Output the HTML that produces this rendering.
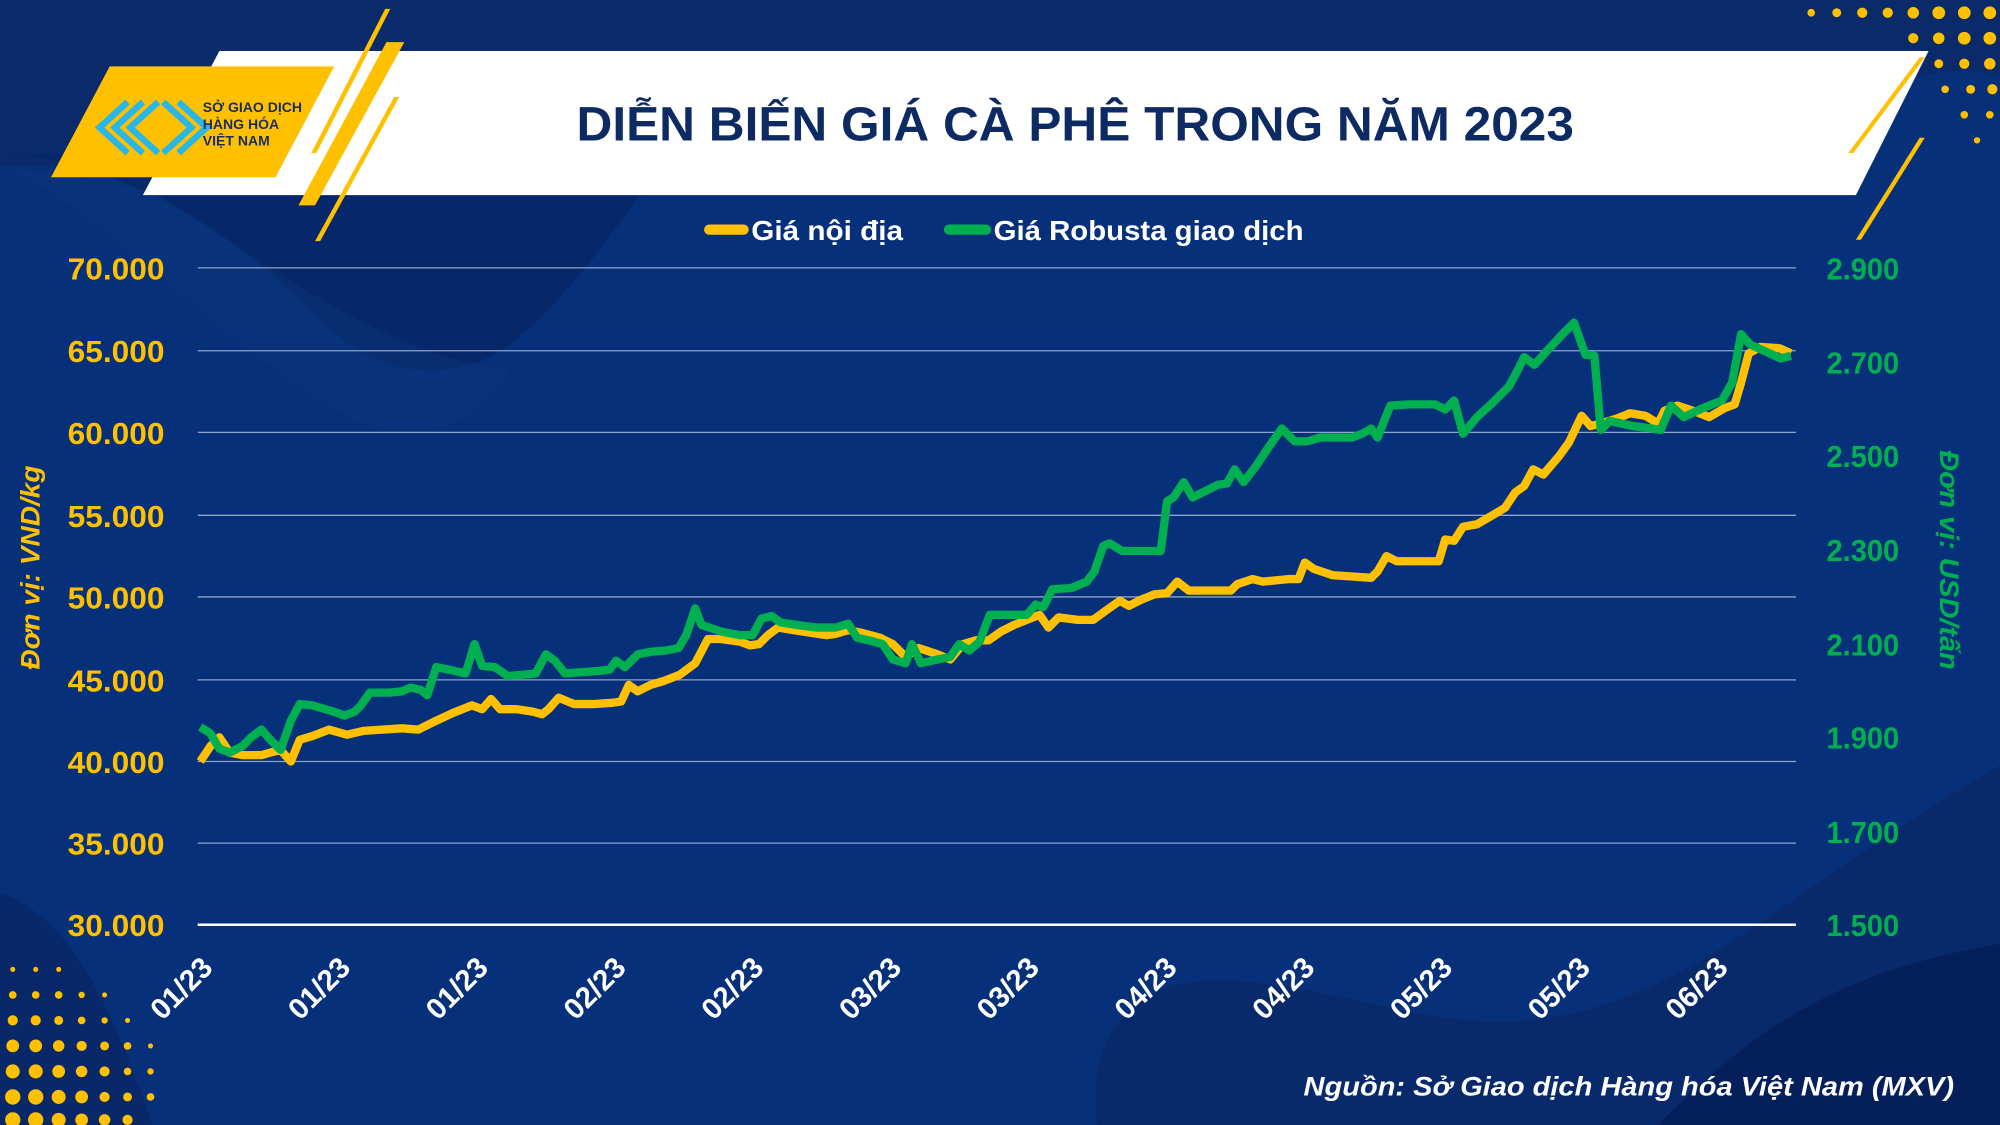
<!DOCTYPE html>
<html><head><meta charset="utf-8"><style>
html,body{margin:0;padding:0;background:#05296b;}
svg{display:block}
text{font-family:"Liberation Sans",sans-serif;font-weight:bold}
</style></head><body>
<svg width="2000" height="1125" viewBox="0 0 1568 882" xmlns="http://www.w3.org/2000/svg">
<rect width="1568" height="882" fill="#07307a"/>
<path d="M0 0 H1568 V60 C1500 40 1450 90 1400 130 L0 130 Z" fill="#0a2a6a"/>
<path d="M0 120 C120 130 200 200 250 250 C300 300 360 300 400 270 C450 230 480 180 520 130 Z" fill="#06276a"/>
<path d="M0 130 C80 160 180 280 280 330 C340 360 380 320 400 290 C300 280 200 200 120 150 Z" fill="#0a3478" opacity="0.5"/>
<path d="M860 882 C850 800 900 760 980 770 C1080 780 1150 820 1250 790 C1350 760 1400 700 1568 600 V882 Z" fill="#082a6a"/>
<path d="M1300 882 C1380 800 1450 760 1568 740 V882 Z" fill="#051f5a"/>
<path d="M0 700 C60 720 90 800 120 882 H0 Z" fill="#08286a"/>
<g fill="#ffc000">
<circle cx="1420" cy="10" r="3"/><circle cx="1440" cy="10" r="3.5"/><circle cx="1460" cy="10" r="4"/><circle cx="1480" cy="10" r="4"/><circle cx="1500" cy="10" r="4.5"/><circle cx="1520" cy="10" r="5"/><circle cx="1540" cy="10" r="5"/><circle cx="1560" cy="10" r="5"/>
<circle cx="1500" cy="30" r="4"/><circle cx="1520" cy="30" r="4.5"/><circle cx="1540" cy="30" r="5"/><circle cx="1560" cy="30" r="5"/>
<circle cx="1520" cy="50" r="3.5"/><circle cx="1540" cy="50" r="4"/><circle cx="1560" cy="50" r="4.5"/>
<circle cx="1525" cy="70" r="3"/><circle cx="1545" cy="70" r="3.5"/><circle cx="1562" cy="70" r="4"/>
<circle cx="1540" cy="90" r="3"/><circle cx="1560" cy="90" r="3"/><circle cx="1550" cy="110" r="2.5"/>
<circle cx="10" cy="760" r="2"/><circle cx="28" cy="760" r="2"/><circle cx="46" cy="760" r="2"/>
<circle cx="10" cy="780" r="3"/><circle cx="28" cy="780" r="3"/><circle cx="46" cy="780" r="3"/><circle cx="64" cy="780" r="2.5"/><circle cx="82" cy="780" r="2"/>
<circle cx="10" cy="800" r="4"/><circle cx="28" cy="800" r="4"/><circle cx="46" cy="800" r="3.5"/><circle cx="64" cy="800" r="3"/><circle cx="82" cy="800" r="2.5"/><circle cx="100" cy="800" r="2"/>
<circle cx="10" cy="820" r="5"/><circle cx="28" cy="820" r="5"/><circle cx="46" cy="820" r="4.5"/><circle cx="64" cy="820" r="4"/><circle cx="82" cy="820" r="3.5"/><circle cx="100" cy="820" r="3"/><circle cx="118" cy="820" r="2"/>
<circle cx="10" cy="840" r="5.5"/><circle cx="28" cy="840" r="5.5"/><circle cx="46" cy="840" r="5"/><circle cx="64" cy="840" r="4.5"/><circle cx="82" cy="840" r="4"/><circle cx="100" cy="840" r="3"/><circle cx="118" cy="840" r="2.5"/>
<circle cx="10" cy="860" r="6"/><circle cx="28" cy="860" r="6"/><circle cx="46" cy="860" r="5.5"/><circle cx="64" cy="860" r="5"/><circle cx="82" cy="860" r="4"/><circle cx="100" cy="860" r="3.5"/><circle cx="118" cy="860" r="3"/>
<circle cx="10" cy="878" r="6"/><circle cx="28" cy="878" r="6"/><circle cx="46" cy="878" r="5.5"/><circle cx="64" cy="878" r="5"/><circle cx="82" cy="878" r="4.5"/><circle cx="100" cy="878" r="4"/>
</g>
<polygon points="172,40 1512,40 1455,153 112,153" fill="#ffffff"/>
<polygon points="86,52 262,52 216,139 40,139" fill="#ffc000"/>
<polygon points="302,7 306,7 248,120 244,120" fill="#ffc000"/>
<polygon points="303,33 317,33 247,161 234,161" fill="#ffc000"/>
<polygon points="309,76 313,76 251,189 247,189" fill="#ffc000"/>
<polygon points="1505,45 1509,45 1453,120 1449,120" fill="#ffc000"/>
<polygon points="1505,108 1509,108 1459,188 1455,188" fill="#ffc000"/>
<g fill="none" stroke="#29b6e8" stroke-width="5">
<path d="M100 80 L78 100 L100 120 M112 80 L90 100 L112 120 M124 80 L102 100 L124 120"/>
<path d="M128 80 L150 100 L128 120 M140 80 L162 100 L140 120"/>
</g>
<text x="159" y="88" font-size="11" fill="#1b2d5e" font-family="Liberation Serif" font-weight="normal">SỞ GIAO DỊCH</text>
<text x="159" y="101" font-size="11" fill="#1b2d5e" font-family="Liberation Serif" font-weight="normal">HÀNG HÓA</text>
<text x="159" y="114" font-size="11" fill="#1b2d5e" font-family="Liberation Serif" font-weight="normal">VIỆT NAM</text>
<text x="843" y="110" font-size="38" fill="#0d2a63" text-anchor="middle" textLength="782" lengthAdjust="spacingAndGlyphs">DIỄN BIẾN GIÁ CÀ PHÊ TRONG NĂM 2023</text>
<line x1="556" y1="180" x2="583" y2="180" stroke="#ffc000" stroke-width="8" stroke-linecap="round"/>
<text x="589" y="188" font-size="22" fill="#fff" textLength="119" lengthAdjust="spacingAndGlyphs">Giá nội địa</text>
<line x1="744" y1="180" x2="773" y2="180" stroke="#00b050" stroke-width="8" stroke-linecap="round"/>
<text x="779" y="188" font-size="22" fill="#fff" textLength="243" lengthAdjust="spacingAndGlyphs">Giá Robusta giao dịch</text>
<g stroke="#8fa3c8" stroke-width="1">
<line x1="155" y1="210" x2="1408" y2="210"/><line x1="155" y1="275" x2="1408" y2="275"/><line x1="155" y1="339" x2="1408" y2="339"/><line x1="155" y1="404" x2="1408" y2="404"/><line x1="155" y1="468" x2="1408" y2="468"/><line x1="155" y1="533" x2="1408" y2="533"/><line x1="155" y1="597" x2="1408" y2="597"/><line x1="155" y1="661" x2="1408" y2="661"/>
</g>
<line x1="155" y1="725" x2="1408" y2="725" stroke="#ffffff" stroke-width="2"/>
<g font-size="24" fill="#ffc000" text-anchor="end">
<text x="129" y="219" textLength="76" lengthAdjust="spacingAndGlyphs">70.000</text>
<text x="129" y="284" textLength="76" lengthAdjust="spacingAndGlyphs">65.000</text>
<text x="129" y="348" textLength="76" lengthAdjust="spacingAndGlyphs">60.000</text>
<text x="129" y="413" textLength="76" lengthAdjust="spacingAndGlyphs">55.000</text>
<text x="129" y="477" textLength="76" lengthAdjust="spacingAndGlyphs">50.000</text>
<text x="129" y="542" textLength="76" lengthAdjust="spacingAndGlyphs">45.000</text>
<text x="129" y="606" textLength="76" lengthAdjust="spacingAndGlyphs">40.000</text>
<text x="129" y="670" textLength="76" lengthAdjust="spacingAndGlyphs">35.000</text>
<text x="129" y="734" textLength="76" lengthAdjust="spacingAndGlyphs">30.000</text>
</g>
<g font-size="24" fill="#00b050">
<text x="1432" y="219" textLength="57" lengthAdjust="spacingAndGlyphs">2.900</text>
<text x="1432" y="293" textLength="57" lengthAdjust="spacingAndGlyphs">2.700</text>
<text x="1432" y="366" textLength="57" lengthAdjust="spacingAndGlyphs">2.500</text>
<text x="1432" y="440" textLength="57" lengthAdjust="spacingAndGlyphs">2.300</text>
<text x="1432" y="514" textLength="57" lengthAdjust="spacingAndGlyphs">2.100</text>
<text x="1432" y="587" textLength="57" lengthAdjust="spacingAndGlyphs">1.900</text>
<text x="1432" y="661" textLength="57" lengthAdjust="spacingAndGlyphs">1.700</text>
<text x="1432" y="734" textLength="57" lengthAdjust="spacingAndGlyphs">1.500</text>
</g>
<text transform="translate(31,445) rotate(-90)" font-size="21" font-style="italic" fill="#ffc000" text-anchor="middle" textLength="160" lengthAdjust="spacingAndGlyphs">Đơn vị: VND/kg</text>
<text transform="translate(1521,439) rotate(90)" font-size="21" font-style="italic" fill="#00b050" text-anchor="middle" textLength="172" lengthAdjust="spacingAndGlyphs">Đơn vị: USD/tấn</text>
<g font-size="23" fill="#fff" text-anchor="end">
<text transform="translate(168,760) rotate(-45)">01/23</text>
<text transform="translate(276,760) rotate(-45)">01/23</text>
<text transform="translate(384,760) rotate(-45)">01/23</text>
<text transform="translate(492,760) rotate(-45)">02/23</text>
<text transform="translate(600,760) rotate(-45)">02/23</text>
<text transform="translate(708,760) rotate(-45)">03/23</text>
<text transform="translate(816,760) rotate(-45)">03/23</text>
<text transform="translate(924,760) rotate(-45)">04/23</text>
<text transform="translate(1032,760) rotate(-45)">04/23</text>
<text transform="translate(1140,760) rotate(-45)">05/23</text>
<text transform="translate(1248,760) rotate(-45)">05/23</text>
<text transform="translate(1356,760) rotate(-45)">06/23</text>
</g>
<polyline fill="none" stroke="#ffc000" stroke-width="6.5" stroke-linejoin="round" points="157,597 165,585 172,578 180,590 190,592 205,592 212,590 220,588 228,597 235,580 245,577 258,572 272,576 285,573 300,572 315,571 328,572 340,566 355,559 370,553 378,556 385,548 392,556 405,556 418,558 425,560 430,556 438,547 450,552 465,552 480,551 487,550 493,537 500,542 510,537 520,534 533,529 545,520 555,501 565,501 580,503 588,506 595,505 602,498 610,492 622,494 635,496 648,498 655,497 665,494 675,496 690,500 700,505 710,515 720,508 735,513 745,517 755,505 765,502 775,502 785,495 795,490 805,486 815,482 822,492 830,484 845,486 857,486 868,478 878,471 885,475 895,470 905,466 915,465 923,456 932,463 965,463 970,458 982,454 990,456 1000,455 1010,454 1018,454 1023,441 1030,446 1045,451 1060,452 1075,453 1080,448 1087,436 1095,440 1110,440 1128,440 1133,423 1140,424 1147,413 1158,411 1170,404 1180,398 1188,386 1195,381 1202,368 1210,372 1222,358 1230,347 1240,326 1247,334 1255,332 1268,328 1278,324 1290,326 1300,332 1305,322 1315,318 1330,323 1340,327 1352,320 1360,317 1365,300 1371,277 1380,272 1395,273 1404,277"/>
<polyline fill="none" stroke="#00b050" stroke-width="6.5" stroke-linejoin="round" points="157,570 165,575 172,587 180,590 190,585 197,578 205,572 212,580 220,588 228,565 235,552 245,553 255,556 262,558 270,561 278,558 283,553 290,543 305,543 315,542 322,539 330,541 335,545 342,523 352,525 365,528 372,505 378,522 388,523 398,530 410,529 420,528 428,513 435,518 443,528 455,527 470,526 478,525 483,518 490,523 500,513 510,511 522,510 532,508 538,498 545,477 550,490 565,495 580,498 590,498 597,485 605,483 612,488 625,490 640,492 655,492 665,489 672,500 685,503 692,505 700,517 710,520 715,505 722,520 735,517 745,515 752,505 760,510 768,503 776,482 790,482 805,482 812,474 818,476 825,462 840,461 852,456 858,448 865,428 870,426 880,432 910,432 915,393 920,390 928,378 935,390 945,385 955,380 962,379 968,368 975,378 985,365 995,350 1005,336 1015,346 1025,346 1035,343 1050,343 1060,343 1068,340 1075,336 1080,343 1090,318 1105,317 1125,317 1133,321 1140,314 1147,340 1158,327 1170,316 1183,303 1190,290 1195,280 1203,286 1212,276 1225,262 1234,253 1243,278 1250,279 1255,337 1262,330 1280,334 1295,336 1302,337 1310,318 1320,327 1335,320 1350,314 1358,300 1365,262 1372,270 1385,276 1396,281 1404,279"/>
<text x="1532" y="859" font-size="21" font-style="italic" fill="#fff" text-anchor="end" textLength="510" lengthAdjust="spacingAndGlyphs">Nguồn: Sở Giao dịch Hàng hóa Việt Nam (MXV)</text>
</svg>
</body></html>
